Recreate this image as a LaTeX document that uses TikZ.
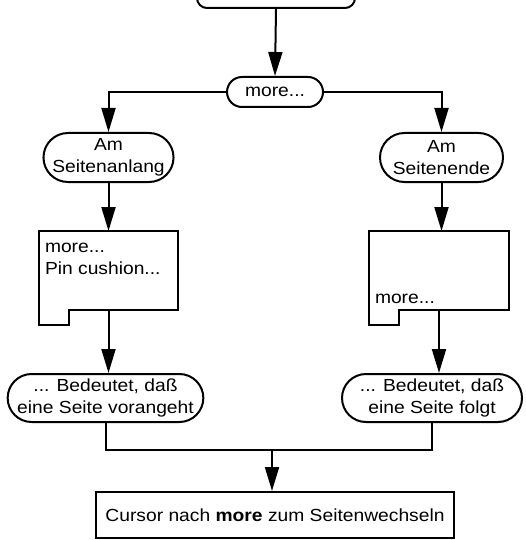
\documentclass[tikz,border=0pt]{standalone}
\usepackage{fontspec}
\setmainfont{Liberation Sans}[FakeStretch=1.1]
\usetikzlibrary{arrows.meta,shapes.misc}
\begin{document}
\begin{tikzpicture}[x=1pt,y=-1pt,
  line width=2pt,
  every node/.style={font=\fontsize{17.5}{22}\selectfont},
  pill/.style={draw, rounded rectangle, inner sep=0pt, align=center},
  docbox/.style={inner sep=0pt, minimum height=77pt},
  >={Triangle[length=24pt,width=14pt]},
  arr/.style={->}
]
\useasboundingbox (0,0) rectangle (525,540);
\node[draw, rounded corners=10pt, minimum width=158pt, minimum height=40pt] (top) at (276,-12) {};
\node[pill, minimum width=96pt, minimum height=30pt] (more) at (275,92) {more...};
\node[pill, minimum width=123pt, minimum height=49pt] (amL) at (108.5,157.5) {Am\\Seitenanlang};
\node[pill, minimum width=123pt, minimum height=49pt] (amR) at (441.5,157.5) {Am\\Seitenende};

\draw[arr] (top.south) -- (more.north);
\draw[arr] (more.west) -| (amL.north);
\draw[arr] (more.east) -| (amR.north);

\node[docbox, minimum width=137pt] (docL) at (108.5,270.5) {};
\node[docbox, minimum width=138pt] (docR) at (439,270.5) {};
\draw (docL.north west) -- (docL.north east) -- (docL.south east) -- ([xshift=30pt]docL.south west) -- ++(0,15) -- ([yshift=-15pt]docL.south west) -- cycle;
\draw (docR.north west) -- (docR.north east) -- (docR.south east) -- ([xshift=30pt]docR.south west) -- ++(0,15) -- ([yshift=-15pt]docR.south west) -- cycle;
\node[anchor=north west, align=left, inner sep=0pt] (docLtxt) at ([xshift=5pt,yshift=-11pt]docL.north west) {more...\\Pin cushion...};
\node[anchor=base west, inner sep=0pt] (docRtxt) at ([xshift=5pt,yshift=7pt]docR.south west) {more...};

\draw[arr] (amL.south) -- (amL.south |- docL.north);
\draw[arr] (amR.south) -- (amR.south |- docR.north);

\node[pill, minimum width=189pt, minimum height=48pt] (bedL) at (105.5,398) {... Bedeutet, daß\\eine Seite vorangeht};
\node[pill, minimum width=180pt, minimum height=48pt] (bedR) at (432,398) {... Bedeutet, daß\\eine Seite folgt};

\draw[arr] (docL.south) -- (docL.south |- bedL.north);
\draw[arr] (docR.south) -- (docR.south |- bedR.north);

\node[draw, minimum width=358pt, minimum height=46pt] (cur) at (275,515) {Cursor nach \textbf{more} zum Seitenwechseln};
\coordinate (j) at (272,450);
\draw (bedL.south) -- (bedL.south |- j) -- (bedR.south |- j) -- (bedR.south);
\draw[arr] (j) -- (j |- cur.north);
\end{tikzpicture}
\end{document}
